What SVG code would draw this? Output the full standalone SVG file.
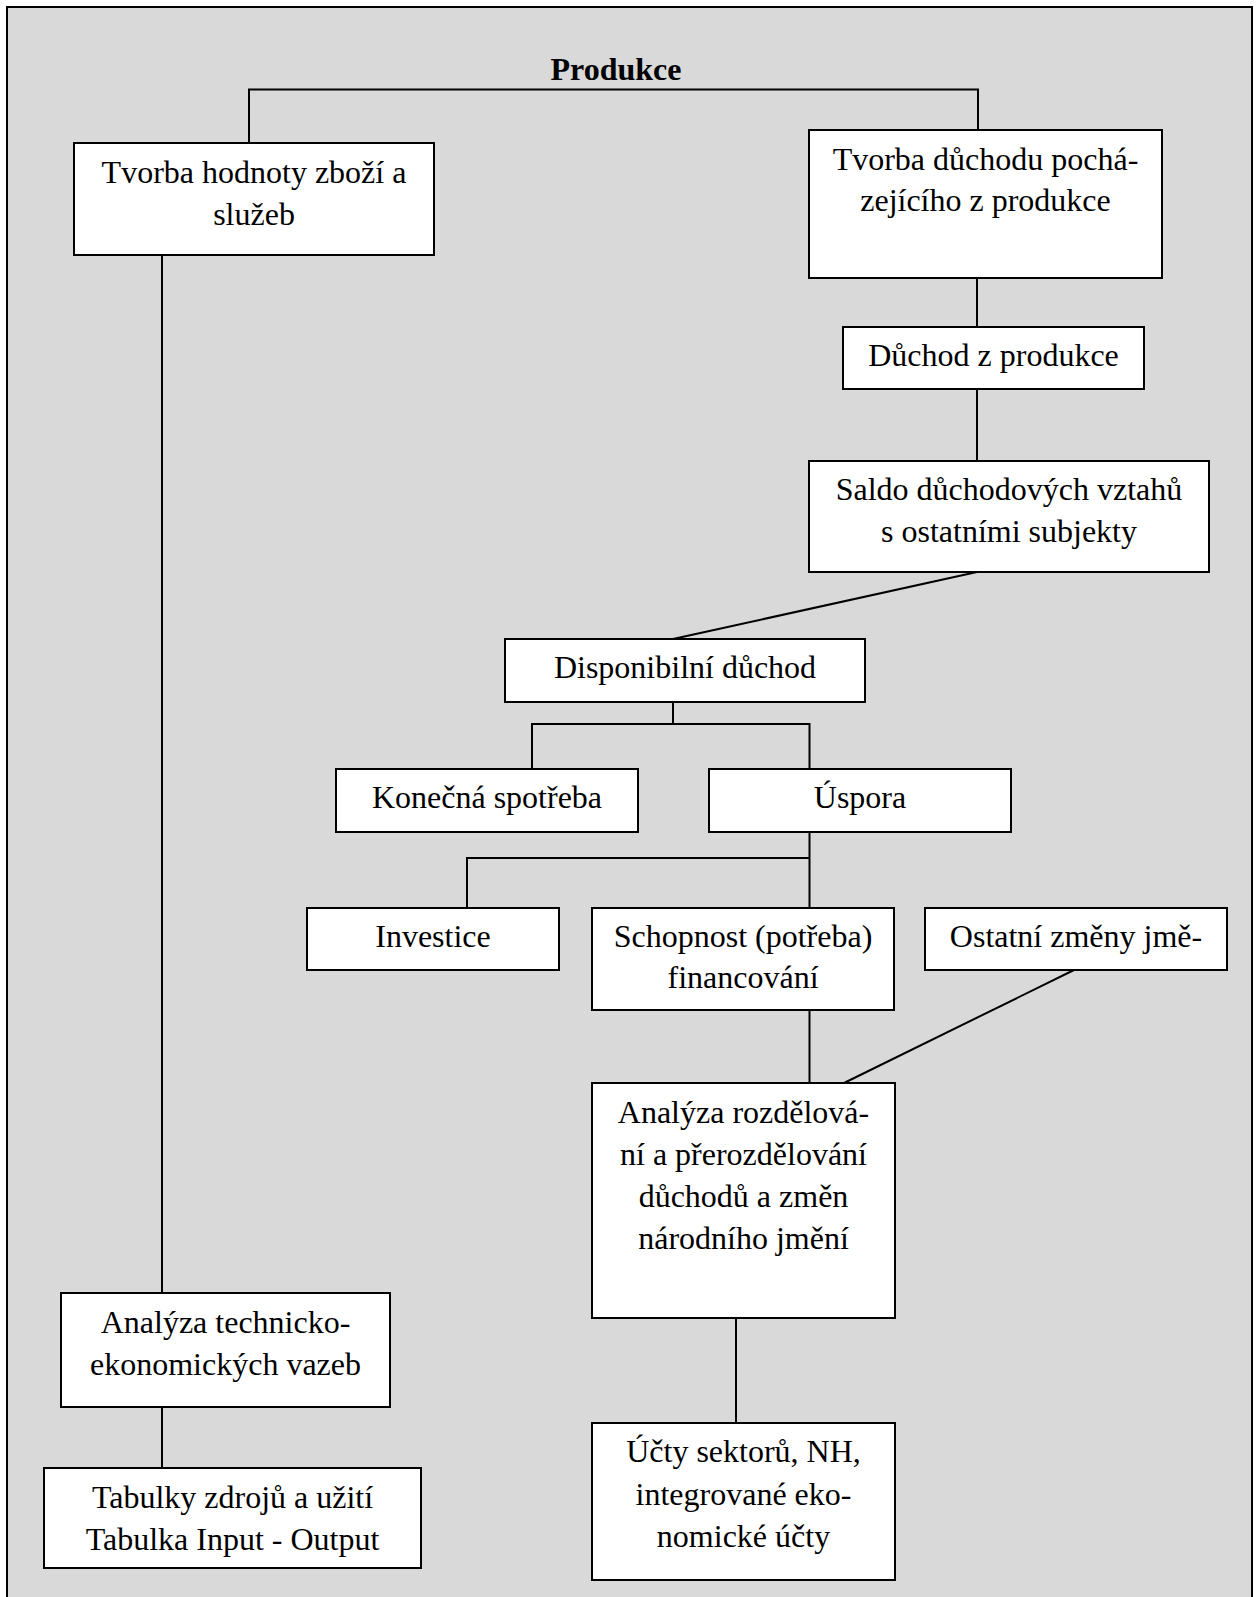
<svg xmlns="http://www.w3.org/2000/svg" width="1259" height="1597" viewBox="0 0 1259 1597">
<style>
.bg{fill:#d9d9d9;stroke:#000;stroke-width:2}
.box{fill:#fff;stroke:#000;stroke-width:2}
.ln{fill:none;stroke:#000;stroke-width:2}
text{font-family:"Liberation Serif","Times New Roman",serif;font-size:32px;fill:#000;text-anchor:middle}
.title{font-weight:bold}
</style>
<rect class="bg" x="7" y="7" width="1245" height="1610"/>
<text class="title" x="616" y="80">Produkce</text>
<g id="connectors">
<path class="ln" d="M249,143 V89.5 H978 V130"/>
<path class="ln" d="M162,255 V1293"/>
<path class="ln" d="M162,1407 V1468"/>
<path class="ln" d="M977,278 V327"/>
<path class="ln" d="M977,389 V461"/>
<path class="ln" d="M977,572 L673,639"/>
<path class="ln" d="M673,702 V724 M532,769 V724 H809.5 V769"/>
<path class="ln" d="M809.5,832 V908 M467,908 V858 H809.5"/>
<path class="ln" d="M809.5,1010 V1083"/>
<path class="ln" d="M1074,970 L844,1083"/>
<path class="ln" d="M736,1318 V1423"/>
</g>
<g id="n1"><rect class="box" x="74" y="143" width="360" height="112"/><text x="254" y="183">Tvorba hodnoty zboží a</text><text x="254" y="225">služeb</text></g>
<g id="n2"><rect class="box" x="809" y="130" width="353" height="148"/><text x="985.5" y="170">Tvorba důchodu pochá-</text><text x="985.5" y="211">zejícího z produkce</text></g>
<g id="n3"><rect class="box" x="843" y="327" width="301" height="62"/><text x="993.5" y="366">Důchod z produkce</text></g>
<g id="n4"><rect class="box" x="809" y="461" width="400" height="111"/><text x="1009" y="500">Saldo důchodových vztahů</text><text x="1009" y="542">s ostatními subjekty</text></g>
<g id="n5"><rect class="box" x="505" y="639" width="360" height="63"/><text x="685" y="678">Disponibilní důchod</text></g>
<g id="n6"><rect class="box" x="336" y="769" width="302" height="63"/><text x="487" y="808">Konečná spotřeba</text></g>
<g id="n7"><rect class="box" x="709" y="769" width="302" height="63"/><text x="860" y="808">Úspora</text></g>
<g id="n8"><rect class="box" x="307" y="908" width="252" height="62"/><text x="433" y="947">Investice</text></g>
<g id="n9"><rect class="box" x="592" y="908" width="302" height="102"/><text x="743" y="947">Schopnost (potřeba)</text><text x="743" y="988">financování</text></g>
<g id="n10"><rect class="box" x="925" y="908" width="302" height="62"/><text x="1076" y="947">Ostatní změny jmě-</text></g>
<g id="n11"><rect class="box" x="592" y="1083" width="303" height="235"/><text x="743.5" y="1123">Analýza rozdělová-</text><text x="743.5" y="1165">ní a přerozdělování</text><text x="743.5" y="1207">důchodů a změn</text><text x="743.5" y="1249">národního jmění</text></g>
<g id="n12"><rect class="box" x="592" y="1423" width="303" height="157"/><text x="743.5" y="1462">Účty sektorů, NH,</text><text x="743.5" y="1505">integrované eko-</text><text x="743.5" y="1547">nomické účty</text></g>
<g id="n13"><rect class="box" x="61" y="1293" width="329" height="114"/><text x="225.5" y="1333">Analýza technicko-</text><text x="225.5" y="1375">ekonomických vazeb</text></g>
<g id="n14"><rect class="box" x="44" y="1468" width="377" height="100"/><text x="232.5" y="1508">Tabulky zdrojů a užití</text><text x="232.5" y="1550">Tabulka Input - Output</text></g>
</svg>
